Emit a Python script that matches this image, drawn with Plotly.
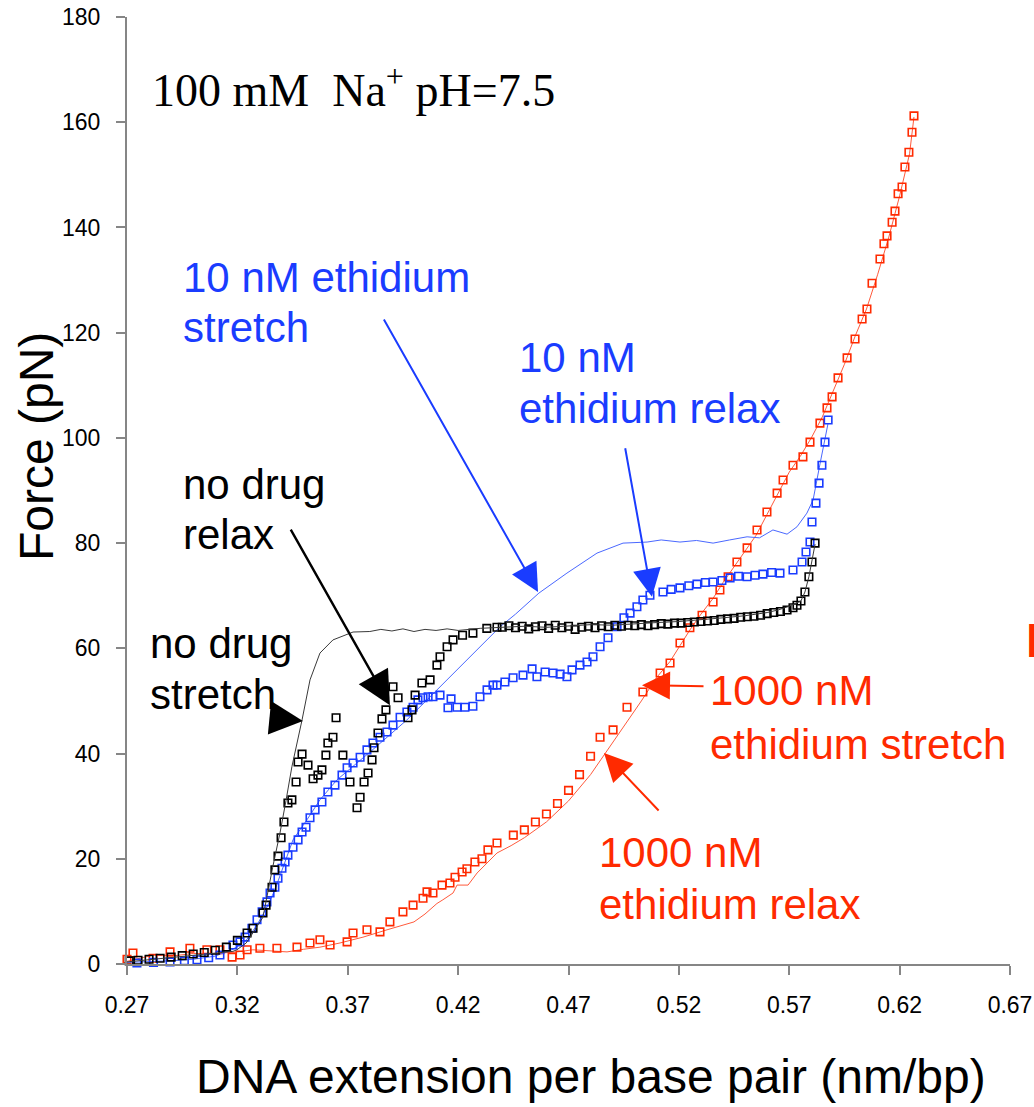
import plotly.graph_objects as go

# ---------------- data: force-extension curves ----------------
# no drug, stretch (line)
nd_stretch_x = [0.270, 0.280, 0.290, 0.300, 0.310, 0.318, 0.3198, 0.324, 0.327, 0.3316, 0.336, 0.3393, 0.342,
                0.3447, 0.3493, 0.3529, 0.3574, 0.3633, 0.3724, 0.380, 0.385, 0.390, 0.395, 0.400, 0.405, 0.410,
                0.415, 0.420, 0.430, 0.440, 0.450, 0.460, 0.470, 0.480, 0.490, 0.500, 0.510, 0.520, 0.530,
                0.540, 0.550, 0.560, 0.565, 0.570, 0.5753, 0.5771, 0.5789, 0.5803, 0.5817]
nd_stretch_f = [0.4, 0.8, 1.2, 1.6, 2.0, 2.4, 2.7, 4.0, 5.9, 8.9, 18.4, 24.9, 31.0,
                37.5, 46.4, 54.0, 59.1, 61.6, 63.1, 63.2, 63.6, 63.3, 63.7, 63.2, 63.6, 63.4,
                63.7, 63.4, 63.8, 64.0, 64.2, 64.0, 64.3, 64.5, 64.4, 64.7, 64.9, 65.1, 65.4,
                65.8, 66.2, 66.8, 67.3, 68.0, 69.0, 70.7, 73.6, 76.4, 79.8]

# no drug, relax (markers)
nd_relax_x = [0.5817, 0.5803, 0.5789, 0.5771, 0.5753, 0.5735, 0.5717, 0.569, 0.566, 0.563, 0.560, 0.557,
              0.554, 0.551, 0.548, 0.545, 0.542, 0.539, 0.536, 0.533, 0.530, 0.527, 0.524, 0.521, 0.518,
              0.515, 0.512, 0.509, 0.506, 0.503, 0.500, 0.497, 0.494, 0.491, 0.488, 0.485, 0.482, 0.479,
              0.476, 0.473, 0.470, 0.467, 0.464, 0.461, 0.458, 0.455, 0.452, 0.449, 0.446, 0.443, 0.440,
              0.4376, 0.4330, 0.4267, 0.4220, 0.4177, 0.4150, 0.4118, 0.4104, 0.4073, 0.4036, 0.4005,
              0.3991, 0.3973, 0.3928, 0.3905, 0.3873, 0.3855, 0.3837, 0.3819, 0.3810, 0.3792, 0.3774,
              0.3756, 0.3742, 0.3710, 0.3678, 0.3647, 0.3633, 0.3610, 0.3601, 0.3583, 0.3565, 0.3543,
              0.3520, 0.3493, 0.3475, 0.3466, 0.3447, 0.3429, 0.3411, 0.3398, 0.3384, 0.3370, 0.3357,
              0.3330, 0.3316, 0.3271, 0.3244, 0.3200, 0.3150, 0.3100, 0.3050, 0.3000, 0.2950, 0.2900,
              0.2850, 0.2800, 0.2750, 0.2710]
nd_relax_f = [80.0, 76.4, 73.6, 70.7, 69.0, 68.2, 67.7, 67.3, 67.0, 66.8, 66.6, 66.3,
              66.1, 66.0, 65.9, 65.7, 65.6, 65.5, 65.3, 65.2, 65.1, 65.0, 64.9, 64.8, 64.8,
              64.6, 64.7, 64.5, 64.3, 64.5, 64.3, 64.4, 64.2, 64.4, 64.1, 64.3, 63.9, 64.2,
              64.0, 63.6, 64.2, 63.9, 64.4, 63.8, 64.3, 64.1, 63.7, 64.2, 63.9, 64.3, 64.0,
              64.0, 63.8, 62.9, 62.5, 61.6, 60.3, 58.4, 56.8, 54.0, 53.4, 51.1,
              48.3, 46.8, 50.6, 52.7, 48.3, 46.6, 43.9, 41.1, 38.8, 36.3, 34.6,
              31.7, 29.7, 34.6, 39.7, 46.8, 43.1, 42.0, 39.7, 36.9, 35.9, 35.2,
              37.8, 39.9, 38.4, 34.6, 31.2, 30.6, 27.0, 24.0, 20.5, 17.9, 14.6,
              11.2, 9.7, 6.8, 5.9, 4.5, 3.2, 2.6, 2.2, 1.9, 1.6, 1.3,
              1.1, 0.9, 0.7, 0.6]

# 10 nM ethidium, stretch (line)
e10_stretch_x = [0.270, 0.280, 0.290, 0.300, 0.310, 0.318, 0.324, 0.329, 0.3334, 0.337, 0.3407, 0.3452,
                 0.3515, 0.3574, 0.3651, 0.3724, 0.3801, 0.3878, 0.3968, 0.4059, 0.4150, 0.4240, 0.4331,
                 0.4390, 0.4460, 0.4566, 0.4693, 0.4829, 0.4947, 0.5056, 0.5120, 0.5205, 0.5280, 0.5355,
                 0.5430, 0.5509, 0.5565, 0.5626, 0.5690, 0.5735, 0.5780, 0.5808, 0.5840, 0.5876]
e10_stretch_f = [0.3, 0.4, 0.6, 0.9, 1.5, 2.8, 4.5, 7.5, 10.8, 14.1, 18.4, 23.6,
                 27.4, 31.2, 35.0, 37.5, 40.3, 43.1, 46.4, 50.2, 54.0, 57.8, 61.6,
                 64.1, 66.5, 70.5, 74.3, 78.1, 80.0, 80.2, 80.6, 80.2, 80.5, 80.0,
                 80.6, 81.2, 81.0, 82.5, 81.7, 83.1, 85.7, 88.2, 95.2, 102.8]

# 10 nM ethidium, relax (markers)
e10_relax_x = [0.5876, 0.5862, 0.5848, 0.5835, 0.5821, 0.5803, 0.5794, 0.5776, 0.5758, 0.5717, 0.5658,
               0.5620, 0.5581, 0.5545, 0.5509, 0.5470, 0.5432, 0.5395, 0.5355, 0.5320, 0.5282, 0.5245,
               0.5205, 0.5165, 0.5128, 0.5069, 0.5037, 0.5010, 0.4979, 0.4951, 0.4920, 0.4879, 0.4843,
               0.4811, 0.4784, 0.4752, 0.4716, 0.4693, 0.4662, 0.4630, 0.4594, 0.4557, 0.4535, 0.4494,
               0.4449, 0.4412, 0.4376, 0.4358, 0.4331, 0.4299, 0.4267, 0.4231, 0.4195, 0.4168, 0.4154,
               0.4118, 0.4086, 0.4064, 0.4041, 0.4018, 0.3996, 0.3968, 0.3937, 0.3905, 0.3878, 0.3846,
               0.3814, 0.3787, 0.3756, 0.3724, 0.3697, 0.3674, 0.3642, 0.3610, 0.3583, 0.3552, 0.3529,
               0.3511, 0.3493, 0.3475, 0.3452, 0.3429, 0.3416, 0.3402, 0.3384, 0.3370, 0.3348, 0.3334,
               0.3312, 0.3289, 0.3266, 0.3235, 0.3212, 0.3180, 0.3121, 0.3070, 0.3017, 0.2960, 0.2895,
               0.2820, 0.2745]
e10_relax_f = [103.4, 99.2, 94.8, 91.4, 87.6, 84.0, 80.2, 78.3, 76.4, 74.9, 74.3,
               74.4, 74.1, 73.9, 73.6, 73.7, 73.4, 72.9, 72.6, 72.5, 72.2, 71.9,
               71.5, 71.2, 70.7, 70.1, 69.2, 67.9, 66.7, 65.8, 64.1, 62.0, 60.3,
               58.4, 57.4, 56.8, 55.9, 54.6, 55.1, 55.3, 55.5, 54.6, 56.1, 54.9,
               54.4, 53.6, 53.0, 53.0, 52.1, 50.8, 49.0, 48.8, 48.8, 50.4, 48.7,
               51.1, 50.8, 50.8, 50.6, 50.2, 48.8, 47.9, 46.9, 45.4, 44.1, 43.1,
               42.0, 40.7, 39.3, 38.2, 37.3, 35.9, 34.0, 32.7, 30.8, 29.3, 27.8,
               26.0, 25.1, 23.6, 22.2, 20.7, 19.4, 18.2, 16.3, 14.6, 13.5, 11.8,
               9.9, 8.4, 6.8, 5.1, 4.2, 3.6, 1.7, 1.2, 0.8, 0.6, 0.4,
               0.3, 0.2]

# 1000 nM ethidium, stretch (line)
e1000_stretch_x = [0.270, 0.2818, 0.290, 0.300, 0.310, 0.320, 0.327, 0.335, 0.3425, 0.350, 0.3574, 0.3665,
                   0.3769, 0.3878, 0.395, 0.400, 0.405, 0.4104, 0.4131, 0.4177, 0.4195, 0.4245, 0.4286,
                   0.4331, 0.4376, 0.444, 0.450, 0.460, 0.470, 0.480, 0.490, 0.4965, 0.503, 0.510, 0.516,
                   0.5205, 0.525, 0.530, 0.5355, 0.540, 0.545, 0.550, 0.555, 0.560, 0.565, 0.570, 0.575,
                   0.580, 0.585, 0.590, 0.595, 0.600, 0.605, 0.610, 0.615, 0.620, 0.6245, 0.6265]
e1000_stretch_f = [0.5, 1.7, 1.5, 2.0, 2.0, 2.3, 2.7, 2.5, 2.3, 2.8, 3.2, 4.0,
                   5.1, 6.5, 7.4, 8.0, 9.5, 11.5, 12.2, 13.5, 15.0, 15.0, 17.3,
                   19.2, 21.1, 22.5, 24.0, 27.0, 31.0, 36.0, 42.0, 46.0, 50.0, 54.5, 57.5,
                   60.5, 63.5, 66.5, 69.5, 72.5, 75.5, 78.5, 81.5, 85.5, 89.5, 93.5, 96.5,
                   100.0, 104.0, 109.0, 114.0, 119.5, 124.5, 131.0, 138.0, 146.0, 154.0, 161.0]

# 1000 nM ethidium, relax (markers)
e1000_relax_x = [0.6265, 0.6256, 0.6242, 0.6224, 0.6211, 0.6193, 0.6179, 0.6166, 0.6143, 0.6129, 0.6111,
                 0.6075, 0.6052, 0.6030, 0.5998, 0.5962, 0.5921, 0.5894, 0.5871, 0.5839, 0.5794, 0.5762,
                 0.5717, 0.5672, 0.5645, 0.5599, 0.5554, 0.5509, 0.5463, 0.5423, 0.5386, 0.5355, 0.5305,
                 0.5250, 0.5205, 0.5160, 0.5115, 0.5037, 0.4965, 0.4902, 0.4843, 0.4800, 0.4750, 0.4700,
                 0.4650, 0.4600, 0.4550, 0.4500, 0.4450, 0.4376, 0.4335, 0.4308, 0.4276, 0.4240, 0.4218,
                 0.4186, 0.4163, 0.4127, 0.4086, 0.4059, 0.4041, 0.3996, 0.3950, 0.3891, 0.3846, 0.3787,
                 0.3724, 0.3697, 0.3620, 0.3574, 0.3529, 0.3470, 0.3379, 0.3302, 0.3244, 0.3212, 0.3176,
                 0.3121, 0.3062, 0.2985, 0.2895, 0.2818, 0.2727, 0.2700]
e1000_relax_f = [161.2, 158.1, 154.3, 151.5, 147.7, 146.4, 143.1, 141.0, 138.4, 136.9, 134.0,
                 129.4, 124.5, 122.6, 118.8, 115.2, 111.4, 107.8, 105.7, 102.8, 99.2, 96.4,
                 94.8, 92.0, 89.5, 85.9, 82.5, 79.1, 76.4, 73.6, 71.1, 68.8, 66.3,
                 63.9, 61.0, 57.2, 55.3, 51.7, 48.8, 44.5, 43.1, 39.5, 36.0, 33.0,
                 30.5, 28.5, 27.0, 25.5, 24.5, 23.0, 21.7, 20.0, 19.4, 18.1, 17.5,
                 16.5, 15.4, 15.0, 13.5, 13.7, 12.5, 11.2, 9.9, 8.0, 6.1, 6.5,
                 5.9, 4.2, 3.6, 4.6, 4.0, 3.2, 3.0, 3.0, 2.7, 1.7, 1.3,
                 2.7, 2.7, 3.0, 2.3, 1.1, 2.1, 0.9]

x_ticks = [0.27, 0.32, 0.37, 0.42, 0.47, 0.52, 0.57, 0.62, 0.67]
x_tick_labels = ["0.27", "0.32", "0.37", "0.42", "0.47", "0.52", "0.57", "0.62", "0.67"]
y_ticks = [0, 20, 40, 60, 80, 100, 120, 140, 160, 180]

BLACK = "#000000"
BLUE = "#1a3cff"
RED = "#ff2a00"
AXIS = "#868686"
SANS = "Liberation Sans, Arial, sans-serif"
SERIF = "Liberation Serif, Times New Roman, serif"

fig = go.Figure()


def line_trace(x, y, color, name):
    fig.add_trace(go.Scatter(x=x, y=y, mode="lines", name=name,
                             line=dict(color=color, width=1), cliponaxis=False))


def marker_trace(x, y, color, name):
    fig.add_trace(go.Scatter(x=x, y=y, mode="markers", name=name, cliponaxis=False,
                             marker=dict(symbol="square-open", size=7.5,
                                         color=color, line=dict(color=color, width=1.6))))


line_trace(e1000_stretch_x, e1000_stretch_f, "#ff5a3c", "1000 nM stretch")
marker_trace(e1000_relax_x, e1000_relax_f, RED, "1000 nM relax")
line_trace(e10_stretch_x, e10_stretch_f, "#4a68ff", "10 nM stretch")
marker_trace(e10_relax_x, e10_relax_f, BLUE, "10 nM relax")
marker_trace(nd_relax_x, nd_relax_f, BLACK, "no drug relax")
line_trace(nd_stretch_x, nd_stretch_f, "#3a3a3a", "no drug stretch")

# plot area in page pixels
L, R, T, B = 127, 24, 17, 143
W, H = 1034, 1107
PW, PH = W - L - R, H - T - B


def px(xp):
    return (xp - L) / PW


def py(yp):
    return (H - B - yp) / PH


def label(text, left, cap_top, size, color, family=SANS, asc=0.19):
    top = cap_top - asc * size - 1
    return dict(text=text, xref="paper", yref="paper", x=px(left), y=py(top),
                xanchor="left", yanchor="top", showarrow=False,
                font=dict(family=family, size=size, color=color))


def arrow(x, y, ax, ay, color, width=2):
    return dict(text="", x=x, y=y, xref="x", yref="y", ax=ax, ay=ay,
                axref="pixel", ayref="pixel", showarrow=True, arrowhead=2,
                arrowsize=2.8, arrowwidth=width, arrowcolor=color, standoff=0)


annotations = [
    label("100 mM&#8194;Na<sup>+</sup> pH=7.5", 150, 68, 46, BLACK, SERIF, 0.23),
    label("10 nM ethidium", 181, 261, 42, BLUE),
    label("stretch", 181, 311, 42, BLUE),
    label("10 nM", 517, 341, 42, BLUE),
    label("ethidium relax", 517, 392, 42, BLUE),
    label("no drug", 181, 468, 42, BLACK),
    label("relax", 181, 518, 42, BLACK),
    label("no drug", 148, 627, 42, BLACK),
    label("stretch", 148, 678, 42, BLACK),
    label("1000 nM", 708, 674, 42, RED),
    label("ethidium stretch", 708, 728, 42, RED),
    label("1000 nM", 597, 836, 42, RED),
    label("ethidium relax", 597, 888, 42, RED),
    label("<b>H</b>", 1024, 622, 48, RED),
    arrow(0.4562, 70.7, -155, -274, BLUE),
    arrow(0.5078, 69.8, -27, -150, BLUE),
    arrow(0.3891, 49.2, -100, -177, BLACK, 2.4),
    arrow(0.3497, 46.2, -31, -3, BLACK, 2.4),
    arrow(0.5033, 53.0, 63, 1, RED),
    arrow(0.4861, 40.1, 56, 59, RED),
    dict(text="DNA extension per base pair (nm/bp)", xref="paper", yref="paper",
         x=px(591), y=py(1048), xanchor="center", yanchor="top", showarrow=False,
         font=dict(family=SANS, size=48, color=BLACK)),
    dict(text="Force (pN)", xref="paper", yref="paper", textangle=-90,
         x=px(37), y=py(447), xanchor="center", yanchor="middle", showarrow=False,
         font=dict(family=SANS, size=48, color=BLACK)),
]

axis_common = dict(showgrid=False, zeroline=False, showline=True, linecolor=AXIS, linewidth=2,
                   ticks="outside", ticklen=9, tickwidth=2, tickcolor=AXIS, automargin=False,
                   tickfont=dict(family=SANS, size=23, color=BLACK))

fig.update_layout(
    width=W, height=H,
    margin=dict(l=L, r=R, t=T, b=B, pad=0, autoexpand=False),
    paper_bgcolor="white", plot_bgcolor="white",
    showlegend=False,
    annotations=annotations,
    xaxis=dict(range=[0.27, 0.67], tickvals=x_ticks, ticktext=x_tick_labels,
               ticklabelstandoff=10, **axis_common),
    yaxis=dict(range=[0, 180], tickvals=y_ticks, ticklabelstandoff=11, **axis_common),
)

fig.write_html("out.html")
